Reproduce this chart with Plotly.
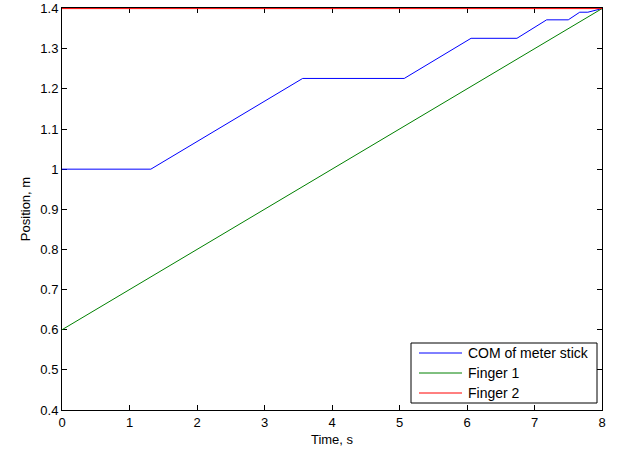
import plotly.graph_objects as go

# Time samples (s) and positions (m) of the meter-stick centre of mass and the two fingers
com_t = [0.0, 1.316, 3.565, 5.07, 6.06, 6.74, 7.18, 7.50, 7.67, 7.79, 8.0]
com_y = [1.0, 1.0, 1.226, 1.226, 1.326, 1.326, 1.372, 1.372, 1.391, 1.391, 1.4]

finger1_t = [0.0, 8.0]
finger1_y = [0.6, 1.4]

finger2_t = [0.0, 8.0]
finger2_y = [1.4, 1.4]

series_names = ["COM of meter stick", "Finger 1", "Finger 2"]
series_colors = ["rgb(0,0,255)", "rgb(0,128,0)", "rgb(255,0,0)"]

x_ticks = [0, 1, 2, 3, 4, 5, 6, 7, 8]
y_ticks = [0.4, 0.5, 0.6, 0.7, 0.8, 0.9, 1.0, 1.1, 1.2, 1.3, 1.4]
y_tick_text = ["0.4", "0.5", "0.6", "0.7", "0.8", "0.9", "1", "1.1", "1.2", "1.3", "1.4"]

font_family = "Liberation Sans, Arial, sans-serif"

W, H = 623, 452
M_L, M_R, M_T, M_B = 62, 21, 8, 42
plot_w = W - M_L - M_R
plot_h = H - M_T - M_B


def px_to_paper(px, py):
    """Convert a page pixel position to paper coordinates of the plot area."""
    return (px - M_L) / plot_w, (H - M_B - py) / plot_h


fig = go.Figure()
for t, y, name, color in zip([com_t, finger1_t, finger2_t],
                             [com_y, finger1_y, finger2_y],
                             series_names, series_colors):
    fig.add_trace(go.Scatter(x=t, y=y, mode="lines", name=name, showlegend=False,
                             line=dict(color=color, width=1)))

axis_common = dict(
    showline=True, linecolor="black", linewidth=1, mirror="ticks",
    ticks="inside", ticklen=5, tickcolor="black", tickwidth=1,
    showgrid=False, zeroline=False, automargin=False,
    tickfont=dict(family=font_family, size=13, color="black"),
    layer="below traces",
)

fig.update_xaxes(range=[0, 8], tickvals=x_ticks,
                 title=dict(text="Time, s", standoff=6,
                            font=dict(family=font_family, size=13, color="black")),
                 **axis_common)
fig.update_yaxes(range=[0.4, 1.4015], tickvals=y_ticks, ticktext=y_tick_text,
                 title=dict(text="Position, m", standoff=6,
                            font=dict(family=font_family, size=13, color="black")),
                 **axis_common)

# Boxed legend in the lower-right corner of the axes
bx0, by0 = px_to_paper(411, 403)
bx1, by1 = px_to_paper(597, 343)
shapes = [dict(type="rect", xref="paper", yref="paper", x0=bx0, y0=by0, x1=bx1, y1=by1,
               line=dict(color="black", width=1), fillcolor="white", layer="above")]
annotations = []
for i, (name, color) in enumerate(zip(series_names, series_colors)):
    row_y = 353 + 20 * i
    lx0, ly = px_to_paper(419, row_y)
    lx1, _ = px_to_paper(462, row_y)
    shapes.append(dict(type="line", xref="paper", yref="paper", x0=lx0, y0=ly, x1=lx1, y1=ly,
                       line=dict(color=color, width=1), layer="above"))
    tx, _ = px_to_paper(466, row_y)
    annotations.append(dict(xref="paper", yref="paper", x=tx, y=ly, text=name,
                            showarrow=False, xanchor="left", yanchor="middle",
                            font=dict(family=font_family, size=14, color="black")))

fig.update_layout(
    width=W, height=H,
    margin=dict(l=M_L, r=M_R, t=M_T, b=M_B),
    paper_bgcolor="white", plot_bgcolor="white",
    font=dict(family=font_family, size=13, color="black"),
    shapes=shapes, annotations=annotations,
    showlegend=False,
)

fig.write_html("out.html")
